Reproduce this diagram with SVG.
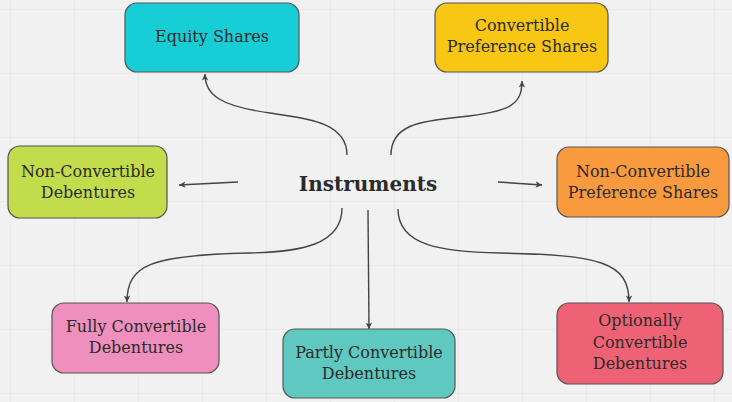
<svg xmlns="http://www.w3.org/2000/svg" width="732" height="402" viewBox="0 0 732 402">
<defs>
<pattern id="grid" x="10" y="9" width="64" height="64" patternUnits="userSpaceOnUse">
<path d="M0 0 H64 M0 0 V64" fill="none" stroke="#e4e4e4" stroke-width="1"/>
</pattern>
<marker id="arr" viewBox="0 0 10 10" refX="9" refY="5" markerWidth="8" markerHeight="8" orient="auto" markerUnits="userSpaceOnUse">
<path d="M1 1 L9 5 L1 9 L3 5 Z" fill="#444"/>
</marker>
<style>
.box{stroke:#555;stroke-width:1.2}
.t{font-family:"DejaVu Serif","Liberation Serif",serif;font-size:16px;fill:#2b2b2b;text-anchor:middle}
.c{fill:none;stroke:#444;stroke-width:1.4;marker-end:url(#arr)}
</style>
</defs>
<rect width="732" height="402" fill="#f1f1f1"/>
<rect width="732" height="402" fill="url(#grid)"/>
<g id="connectors">
<path class="c" d="M347,155 C347,120 300,118 270,113 C220,106 205,95 205,74"/>
<path class="c" d="M391,155 C391,125 420,121 460,117 C510,112 522,105 522,81"/>
<path class="c" d="M238,182 L179,185"/>
<path class="c" d="M498,182 L542,185"/>
<path class="c" d="M342,208 C342,245 300,252 250,253 C150,255 127,265 127,302"/>
<path class="c" d="M368,210 L369,329"/>
<path class="c" d="M398,209 C398,245 440,252 500,253 C600,255 629,262 629,302"/>
</g>
<g id="center">
<text x="368" y="191" style="font-family:'DejaVu Serif','Liberation Serif',serif;font-size:20px;font-weight:bold;fill:#2b2b2b;text-anchor:middle">Instruments</text>
</g>
<g id="equity">
<rect class="box" x="125" y="3" width="174" height="69" rx="12" fill="#17ced6"/>
<text class="t" x="212" y="42">Equity Shares</text>
</g>
<g id="convpref">
<rect class="box" x="435" y="3" width="173" height="69" rx="12" fill="#f8c714"/>
<text class="t" x="522" y="31">Convertible</text>
<text class="t" x="522" y="52">Preference Shares</text>
</g>
<g id="ncd">
<rect class="box" x="8" y="146" width="159" height="72" rx="12" fill="#c3dc4b"/>
<text class="t" x="88" y="177">Non-Convertible</text>
<text class="t" x="88" y="198">Debentures</text>
</g>
<g id="ncps">
<rect class="box" x="557" y="147" width="172" height="70" rx="12" fill="#fa9a3f"/>
<text class="t" x="643" y="177">Non-Convertible</text>
<text class="t" x="643" y="198">Preference Shares</text>
</g>
<g id="fcd">
<rect class="box" x="52" y="303" width="167" height="70" rx="12" fill="#ee8fbd"/>
<text class="t" x="136" y="332">Fully Convertible</text>
<text class="t" x="136" y="353">Debentures</text>
</g>
<g id="pcd">
<rect class="box" x="283" y="329" width="172" height="69" rx="12" fill="#5fc8c0"/>
<text class="t" x="369" y="358">Partly Convertible</text>
<text class="t" x="369" y="379">Debentures</text>
</g>
<g id="ocd">
<rect class="box" x="557" y="303" width="166" height="81" rx="12" fill="#ef6276"/>
<text class="t" x="640" y="326">Optionally</text>
<text class="t" x="640" y="348">Convertible</text>
<text class="t" x="640" y="369">Debentures</text>
</g>
</svg>
